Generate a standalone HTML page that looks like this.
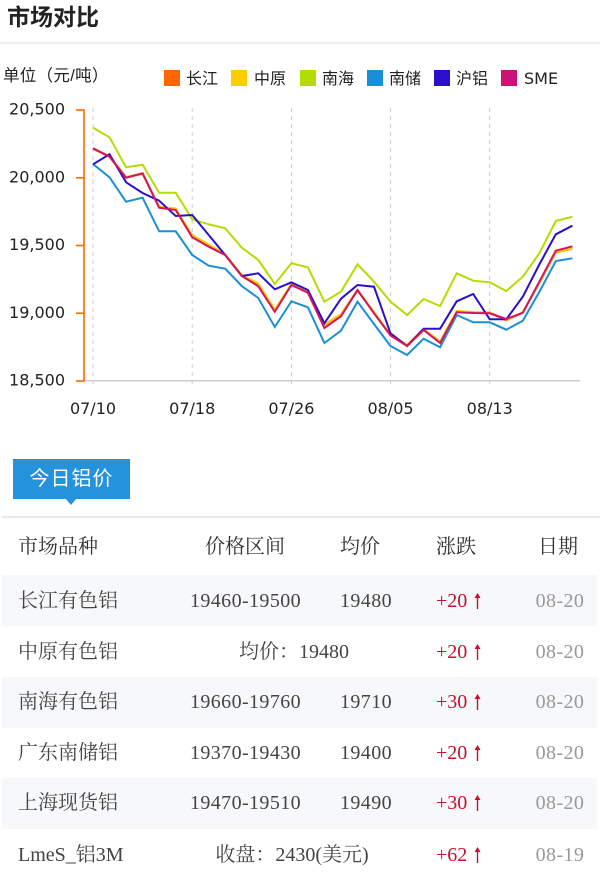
<!DOCTYPE html>
<html>
<head>
<meta charset="utf-8">
<style>
html,body{margin:0;padding:0;background:#fff;}
body{width:600px;height:889px;position:relative;overflow:hidden;font-family:"Liberation Sans","Noto Sans CJK SC",sans-serif;}
.abs{position:absolute;white-space:nowrap;}
.title{left:7px;top:2px;font-size:23px;font-weight:bold;color:#222;line-height:30px;font-family:"Liberation Sans","Noto Sans CJK SC",sans-serif;}
.sep1{left:0;top:42px;width:600px;height:2px;background:#eeeeee;}
.tab{left:13px;top:459px;width:117px;height:40px;background:#2592dc;color:#fff;font-size:20px;line-height:40px;text-align:center;letter-spacing:1px;font-family:"Liberation Sans","Noto Sans CJK SC",sans-serif;}
.sep2{left:2px;top:516px;width:598px;height:2px;background:#e6e9ed;}
.row{left:2px;width:595px;height:51px;background:#f7f8fa;}
.t{font-family:"Liberation Serif","Noto Serif CJK SC",serif;font-size:20px;line-height:30px;color:#444;}
.n{letter-spacing:0.4px;}
.h{color:#333;}
.red{color:#c8102e;}
.gray{color:#999;}
.c{text-align:center;}
</style>
</head>
<body>
<div class="abs title">市场对比</div>
<div class="abs sep1"></div>

<svg class="abs" style="left:0;top:0" width="600" height="430" viewBox="0 0 600 430">
  <text x="3" y="81" font-size="16.5" letter-spacing="0.3" fill="#222" font-family="Liberation Sans, Noto Sans CJK SC, sans-serif">单位（元/吨）</text>
  <g font-size="16" font-family="DejaVu Sans, Noto Sans CJK SC, sans-serif" fill="#222">
    <rect x="164" y="70" width="16" height="16" fill="#ff6600"/><text x="186" y="84">长江</text>
    <rect x="231" y="70" width="16" height="16" fill="#ffcc00"/><text x="254" y="84">中原</text>
    <rect x="300" y="70" width="16" height="16" fill="#b3dd00"/><text x="322" y="84">南海</text>
    <rect x="367" y="70" width="16" height="16" fill="#1a8fd6"/><text x="389" y="84">南储</text>
    <rect x="434" y="70" width="16" height="16" fill="#2a10cc"/><text x="456" y="84">沪铝</text>
    <rect x="501" y="70" width="16" height="16" fill="#cc1177"/><text x="524" y="84">SME</text>
  </g>
  <g stroke="#cccccc" stroke-width="1" stroke-dasharray="4,4">
    <line x1="93" y1="108" x2="93" y2="388"/>
    <line x1="192.2" y1="108" x2="192.2" y2="388"/>
    <line x1="291.4" y1="108" x2="291.4" y2="388"/>
    <line x1="390.5" y1="108" x2="390.5" y2="388"/>
    <line x1="489.7" y1="108" x2="489.7" y2="388"/>
  </g>
  <line x1="84" y1="380.7" x2="580" y2="380.7" stroke="#cfcfcf" stroke-width="1.5"/>
  <g stroke="#ff6600" stroke-width="1.6">
    <line x1="84" y1="109.5" x2="84" y2="381.5"/>
    <line x1="76" y1="110" x2="84" y2="110"/>
    <line x1="76" y1="177.75" x2="84" y2="177.75"/>
    <line x1="76" y1="245.5" x2="84" y2="245.5"/>
    <line x1="76" y1="313.25" x2="84" y2="313.25"/>
    <line x1="76" y1="381" x2="84" y2="381"/>
  </g>
  <g font-size="16" font-family="DejaVu Sans, sans-serif" fill="#222" text-anchor="end">
    <text x="65" y="114.5">20,500</text>
    <text x="65" y="182.3">20,000</text>
    <text x="65" y="250">19,500</text>
    <text x="65" y="317.8">19,000</text>
    <text x="65" y="385.5">18,500</text>
  </g>
  <g font-size="16" font-family="DejaVu Sans, sans-serif" fill="#222" text-anchor="middle">
    <text x="93" y="414">07/10</text>
    <text x="192.2" y="414">07/18</text>
    <text x="291.4" y="414">07/26</text>
    <text x="390.5" y="414">08/05</text>
    <text x="489.7" y="414">08/13</text>
  </g>
  <g fill="none" stroke-width="2" stroke-linejoin="miter">
    <polyline stroke="#ff6600" points="93,148.8 109.5,156.5 126.1,177.5 142.6,173.8 159.1,207 175.7,209 192.2,235.5 208.7,245 225.2,255 241.8,275.5 258.3,284 274.8,310 291.4,284.5 307.9,292.5 324.4,325 341,314.5 357.5,290.5 374,312.5 390.5,335 407.1,345.5 423.6,329.5 440.1,342 456.7,311.5 473.2,312.5 489.7,312.8 506.3,320.5 522.8,312.5 539.3,283 555.8,252.5 572.4,248.7"/>
    <polyline stroke="#ffcc00" points="93,148.3 109.5,156 126.1,177 142.6,173.3 159.1,206.5 175.7,208.5 192.2,235 208.7,244.5 225.2,254.5 241.8,275 258.3,283.5 274.8,309.5 291.4,284 307.9,292 324.4,324.5 341,314 357.5,290 374,312 390.5,334.5 407.1,345 423.6,329 440.1,341.5 456.7,311 473.2,312 489.7,312.3 506.3,320.3 522.8,312 539.3,282.5 555.8,252 572.4,248.7"/>
    <polyline stroke="#b3dd00" points="93,127.7 109.5,137.3 126.1,167.3 142.6,164.7 159.1,192.7 175.7,192.7 192.2,219.3 208.7,224.3 225.2,228.3 241.8,247.7 258.3,260 274.8,284 291.4,263.3 307.9,267.3 324.4,301.7 341,291.7 357.5,264.3 374,281.7 390.5,301.7 407.1,315 423.6,299 440.1,306 456.7,273.3 473.2,280.7 489.7,282.3 506.3,291 522.8,276.7 539.3,253.3 555.8,221 572.4,216.7"/>
    <polyline stroke="#1a8fd6" points="93,164 109.5,177.3 126.1,201.7 142.6,197.7 159.1,231.3 175.7,231.3 192.2,255 208.7,265.7 225.2,268.7 241.8,286 258.3,298 274.8,327 291.4,301.3 307.9,307.3 324.4,343 341,330.7 357.5,301.7 374,324 390.5,346 407.1,355 423.6,338.7 440.1,347.3 456.7,315 473.2,322.3 489.7,322.3 506.3,329.7 522.8,320.7 539.3,292 555.8,261 572.4,258.3"/>
    <polyline stroke="#2a10cc" points="93,164.3 109.5,154.3 126.1,182.3 142.6,193 159.1,200.7 175.7,216 192.2,215 208.7,235 225.2,255 241.8,276 258.3,273.3 274.8,289.3 291.4,282.3 307.9,290 324.4,323.3 341,298.7 357.5,285 374,286.7 390.5,333.3 407.1,346 423.6,328.7 440.1,328.7 456.7,301.3 473.2,294 489.7,319.3 506.3,319.3 522.8,296.7 539.3,264.5 555.8,234.3 572.4,225.7"/>
    <polyline stroke="#d4145e" points="93,148.3 109.5,156.7 126.1,177.7 142.6,173.3 159.1,207.7 175.7,210 192.2,237.3 208.7,246.7 225.2,255 241.8,276 258.3,286.3 274.8,311.8 291.4,285 307.9,292.7 324.4,328 341,316.3 357.5,290 374,313.3 390.5,335.5 407.1,346 423.6,330 440.1,343 456.7,312.3 473.2,313 489.7,313.3 506.3,319 522.8,312.8 539.3,281.7 555.8,250.7 572.4,246.3"/>
  </g>
</svg>

<div class="abs tab">今日铝价</div>
<svg class="abs" style="left:64px;top:498px" width="14" height="8"><polygon points="1,0 13,0 7,7" fill="#2592dc"/></svg>
<div class="abs sep2"></div>

<div class="abs row" style="top:575px"></div>
<div class="abs row" style="top:676.5px"></div>
<div class="abs row" style="top:777.5px"></div>

<!-- header -->
<div class="abs t h" style="left:18px;top:532px">市场品种</div>
<div class="abs t h c" style="left:185px;width:120px;top:532px">价格区间</div>
<div class="abs t h" style="left:340px;top:532px">均价</div>
<div class="abs t h" style="left:436px;top:532px">涨跌</div>
<div class="abs t h" style="left:538px;top:532px">日期</div>

<!-- row 1 -->
<div class="abs t" style="left:18px;top:586px">长江有色铝</div>
<div class="abs t c n" style="left:185px;width:121px;top:586px">19460-19500</div>
<div class="abs t n" style="left:340px;top:586px">19480</div>
<div class="abs t red" style="left:436px;top:586px">+20</div>
<div class="abs t gray c n" style="left:520px;width:80px;top:586px">08-20</div>

<!-- row 2 -->
<div class="abs t" style="left:18px;top:637px">中原有色铝</div>
<div class="abs t c" style="left:214px;width:160px;top:637px">均价：19480</div>
<div class="abs t red" style="left:436px;top:637px">+20</div>
<div class="abs t gray c n" style="left:520px;width:80px;top:637px">08-20</div>

<!-- row 3 -->
<div class="abs t" style="left:18px;top:687px">南海有色铝</div>
<div class="abs t c n" style="left:185px;width:121px;top:687px">19660-19760</div>
<div class="abs t n" style="left:340px;top:687px">19710</div>
<div class="abs t red" style="left:436px;top:687px">+30</div>
<div class="abs t gray c n" style="left:520px;width:80px;top:687px">08-20</div>

<!-- row 4 -->
<div class="abs t" style="left:18px;top:738px">广东南储铝</div>
<div class="abs t c n" style="left:185px;width:121px;top:738px">19370-19430</div>
<div class="abs t n" style="left:340px;top:738px">19400</div>
<div class="abs t red" style="left:436px;top:738px">+20</div>
<div class="abs t gray c n" style="left:520px;width:80px;top:738px">08-20</div>

<!-- row 5 -->
<div class="abs t" style="left:18px;top:788px">上海现货铝</div>
<div class="abs t c n" style="left:185px;width:121px;top:788px">19470-19510</div>
<div class="abs t n" style="left:340px;top:788px">19490</div>
<div class="abs t red" style="left:436px;top:788px">+30</div>
<div class="abs t gray c n" style="left:520px;width:80px;top:788px">08-20</div>

<!-- row 6 -->
<div class="abs t" style="left:18px;top:840px">LmeS_铝3M</div>
<div class="abs t c" style="left:192px;width:200px;top:840px">收盘：2430(美元)</div>
<div class="abs t red" style="left:436px;top:840px">+62</div>
<div class="abs t gray c n" style="left:520px;width:80px;top:840px">08-19</div>

<!-- arrows -->
<svg class="abs" style="left:473px;top:593px" width="9" height="16"><line x1="4.5" y1="16" x2="4.5" y2="3" stroke="#c8102e" stroke-width="1.4"/><polygon points="1.5,5 4.5,0 7.5,5" fill="#c8102e"/></svg>
<svg class="abs" style="left:473px;top:644px" width="9" height="16"><line x1="4.5" y1="16" x2="4.5" y2="3" stroke="#c8102e" stroke-width="1.4"/><polygon points="1.5,5 4.5,0 7.5,5" fill="#c8102e"/></svg>
<svg class="abs" style="left:473px;top:694px" width="9" height="16"><line x1="4.5" y1="16" x2="4.5" y2="3" stroke="#c8102e" stroke-width="1.4"/><polygon points="1.5,5 4.5,0 7.5,5" fill="#c8102e"/></svg>
<svg class="abs" style="left:473px;top:745px" width="9" height="16"><line x1="4.5" y1="16" x2="4.5" y2="3" stroke="#c8102e" stroke-width="1.4"/><polygon points="1.5,5 4.5,0 7.5,5" fill="#c8102e"/></svg>
<svg class="abs" style="left:473px;top:795px" width="9" height="16"><line x1="4.5" y1="16" x2="4.5" y2="3" stroke="#c8102e" stroke-width="1.4"/><polygon points="1.5,5 4.5,0 7.5,5" fill="#c8102e"/></svg>
<svg class="abs" style="left:473px;top:847px" width="9" height="16"><line x1="4.5" y1="16" x2="4.5" y2="3" stroke="#c8102e" stroke-width="1.4"/><polygon points="1.5,5 4.5,0 7.5,5" fill="#c8102e"/></svg>
</body>
</html>
